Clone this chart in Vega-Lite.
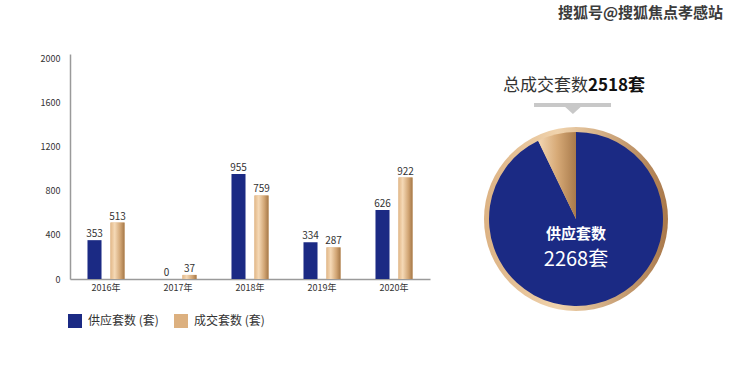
{
  "$schema": "https://vega.github.io/schema/vega-lite/v6.json",
  "padding": {"left": 40, "top": 6, "right": 0, "bottom": 0},
  "autosize": {"type": "pad"},
  "title": {"text": "搜狐号@搜狐焦点孝感站", "anchor": "end", "fontSize": 15, "fontWeight": "bold", "color": "#3c3c3c", "font": "Noto Sans CJK SC", "offset": 33, "dx": 47},
  "config": {"view": {"stroke": null}, "font": "Noto Sans CJK SC"},
  "spacing": 46,
  "hconcat": [
    {
      "width": 360,
      "height": 225,
      "data": {"values": [
        {"year": "2016年", "series": "供应套数 (套)", "value": 353},
        {"year": "2016年", "series": "成交套数 (套)", "value": 513},
        {"year": "2017年", "series": "供应套数 (套)", "value": 0},
        {"year": "2017年", "series": "成交套数 (套)", "value": 37},
        {"year": "2018年", "series": "供应套数 (套)", "value": 955},
        {"year": "2018年", "series": "成交套数 (套)", "value": 759},
        {"year": "2019年", "series": "供应套数 (套)", "value": 334},
        {"year": "2019年", "series": "成交套数 (套)", "value": 287},
        {"year": "2020年", "series": "供应套数 (套)", "value": 626},
        {"year": "2020年", "series": "成交套数 (套)", "value": 922}
      ]},
      "encoding": {
        "x": {"field": "year", "type": "nominal", "scale": {"paddingInner": 0, "paddingOuter": 0},
              "axis": {"title": null, "labelAngle": 0, "ticks": false, "domainColor": "#9a9a9a", "domainWidth": 1.5, "labelFontSize": 9, "labelColor": "#333", "labelPadding": 4}},
        "xOffset": {"field": "series", "type": "nominal", "scale": {"domain": ["供应套数 (套)", "成交套数 (套)"], "paddingInner": 0.39, "paddingOuter": 0.76}},
        "y": {"field": "value", "type": "quantitative", "scale": {"domain": [0, 2045], "nice": false},
              "axis": {"title": null, "values": [0, 400, 800, 1200, 1600, 2000], "format": "d", "ticks": false, "grid": false, "domainColor": "#9a9a9a", "domainWidth": 1.5, "labelPadding": 10, "labelFontSize": 9, "labelColor": "#333"}}
      },
      "layer": [
        {
          "mark": {"type": "bar"},
          "encoding": {
            "color": {"field": "series", "type": "nominal",
                      "scale": {"domain": ["供应套数 (套)", "成交套数 (套)"], "range": ["#1b2a84", "#dcb07f"]},
                      "legend": {"title": null, "orient": "none", "legendX": -2, "legendY": 260, "direction": "horizontal", "symbolType": "square", "symbolSize": 196, "symbolStrokeWidth": 0, "labelFontSize": 12, "labelColor": "#333", "columnPadding": 15, "labelOffset": 6}}
          }
        },
        {
          "transform": [{"filter": "datum.series === '成交套数 (套)'"}],
          "mark": {"type": "bar", "fill": {"gradient": "linear", "x1": 0, "y1": 0, "x2": 1, "y2": 0,
            "stops": [{"offset": 0, "color": "#e2b888"}, {"offset": 0.3, "color": "#f5d9b6"}, {"offset": 0.7, "color": "#d2a675"}, {"offset": 1, "color": "#a57848"}]}}
        },
        {
          "mark": {"type": "text", "dy": -6, "fontSize": 10, "color": "#333"},
          "encoding": {"text": {"field": "value", "type": "quantitative"}}
        }
      ]
    },
    {
      "spacing": 3,
      "vconcat": [
        {
          "width": 200,
          "height": 70,
          "data": {"values": [{"head": "总成交套数", "num": "2518套"}]},
          "layer": [
            {"mark": {"type": "text", "align": "right", "dx": 12, "dy": -3, "fontSize": 17, "color": "#333"}, "encoding": {"text": {"field": "head"}}},
            {"mark": {"type": "text", "align": "left", "dx": 12, "dy": -3, "fontSize": 17, "fontWeight": "bold", "color": "#111"}, "encoding": {"text": {"field": "num"}}},
            {"mark": {"type": "point", "filled": true, "color": "#c8c8c8", "opacity": 1, "size": 5929,
                      "shape": "M-1.09,0.364 L0.91,0.364 L0.91,0.468 L0.12,0.468 L-0.08,0.65 L-0.28,0.468 L-1.09,0.468 Z"},
             "encoding": {}}
          ]
        },
        {
          "width": 200,
          "height": 184,
          "data": {"values": [
            {"cat": "供应套数", "value": 2268, "ord": 1},
            {"cat": "成交套数", "value": 175, "ord": 2}
          ]},
          "layer": [
            {
              "transform": [{"filter": "datum.ord === 1"}],
              "mark": {"type": "arc", "radius": 92, "fill": {"gradient": "linear", "x1": 0, "y1": 0, "x2": 1, "y2": 0,
                "stops": [{"offset": 0, "color": "#dcb283"}, {"offset": 0.4, "color": "#f0d3ad"}, {"offset": 1, "color": "#a9784a"}]}},
              "encoding": {}
            },
            {
              "mark": {"type": "arc", "radius": 87},
              "encoding": {
                "theta": {"field": "value", "type": "quantitative", "stack": true},
                "order": {"field": "ord", "type": "quantitative"},
                "color": {"condition": {"test": "datum.ord === 2", "value": {"gradient": "linear", "x1": 0, "y1": 0, "x2": 1, "y2": 0,
                  "stops": [{"offset": 0, "color": "#f3d7b4"}, {"offset": 0.5, "color": "#d7aa77"}, {"offset": 1, "color": "#a87a4b"}]}},
                  "value": "#1b2a84"}
              }
            },
            {
              "transform": [{"filter": "datum.ord === 1"}],
              "mark": {"type": "text", "dy": 15, "fontSize": 15, "fontWeight": "bold", "color": "#ffffff"},
              "encoding": {"text": {"field": "cat"}}
            },
            {
              "transform": [{"filter": "datum.ord === 1"}],
              "mark": {"type": "text", "dy": 41, "fontSize": 20, "fontWeight": "normal", "color": "#ffffff"},
              "encoding": {"text": {"value": "2268套"}}
            }
          ]
        }
      ]
    }
  ]
}
